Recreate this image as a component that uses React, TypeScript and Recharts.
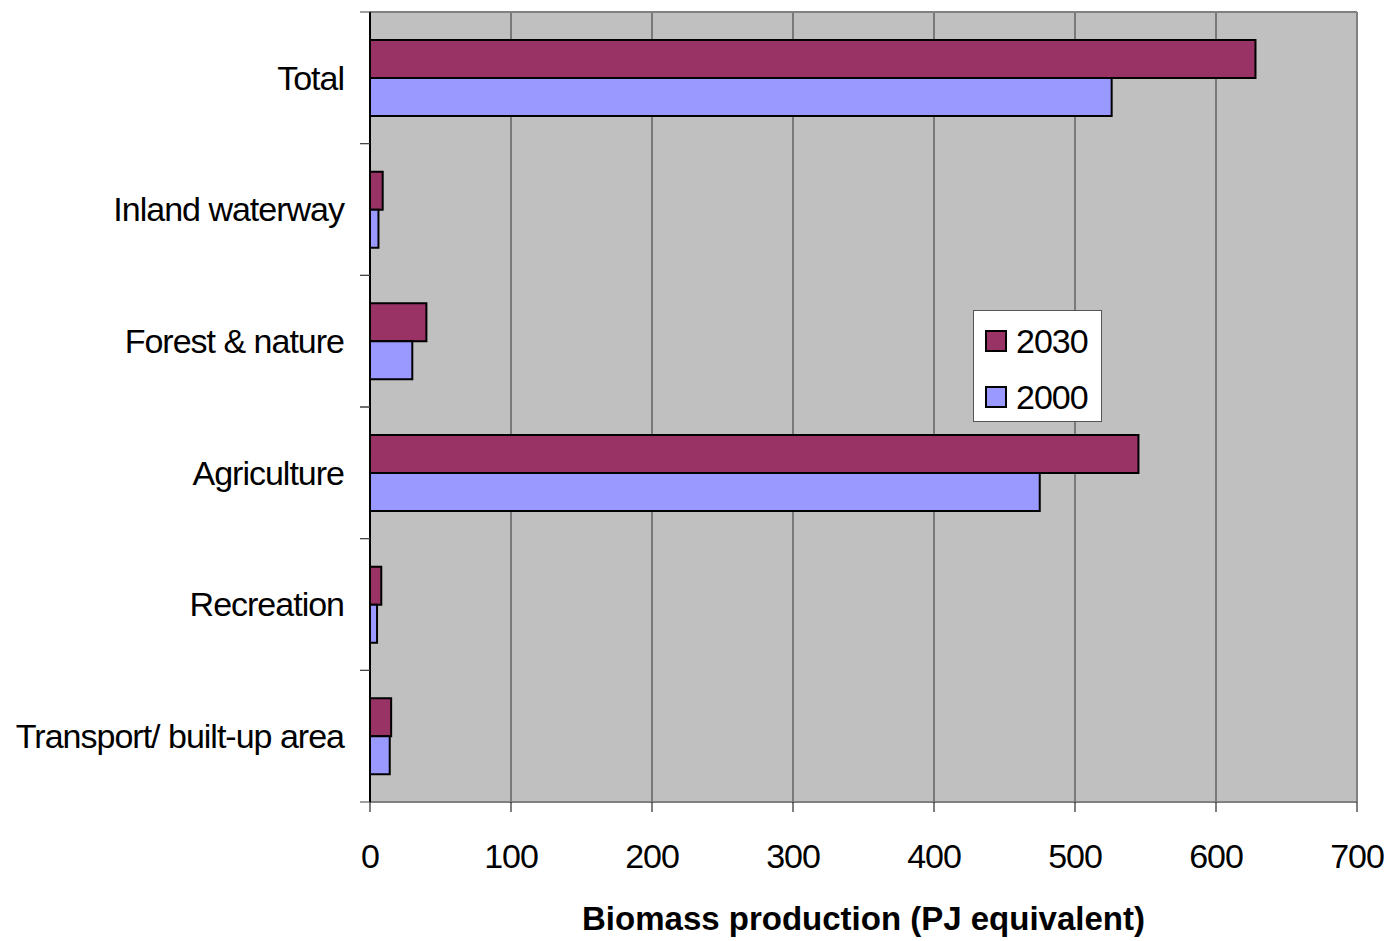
import React from "react";
import {
  BarChart,
  Bar,
  XAxis,
  YAxis,
  CartesianGrid,
  ReferenceLine,
  Label,
} from "recharts";

const categories = [
  "Total",
  "Inland waterway",
  "Forest & nature",
  "Agriculture",
  "Recreation",
  "Transport/ built-up area",
];
const values2030 = [628, 9, 40, 545, 8, 15];
const values2000 = [526, 6, 30, 475, 5, 14];
const xTicks = [0, 100, 200, 300, 400, 500, 600, 700];

const data = categories.map((name, i) => ({
  name,
  y2030: values2030[i],
  y2000: values2000[i],
}));

const FONT = "'Liberation Sans', Arial, sans-serif";
const C2030 = "#993366";
const C2000 = "#9999FF";

const CHART_W = 1394;
const CHART_H = 941;
const MARGIN = { top: 12, right: 37, bottom: 0, left: 0 };
const Y_AXIS_W = 370;
const X_AXIS_H = 139;
const PLOT_H = CHART_H - MARGIN.top - MARGIN.bottom - X_AXIS_H;
const BAND = PLOT_H / categories.length;

const legendItems = [
  { label: "2030", color: C2030 },
  { label: "2000", color: C2000 },
];

const CategoryTick = (props: any) => {
  const { x, y, payload } = props;
  const axisX = MARGIN.left + Y_AXIS_W;
  return (
    <g>
      <line
        x1={axisX - 10}
        x2={axisX}
        y1={y - BAND / 2}
        y2={y - BAND / 2}
        stroke="#404040"
        strokeWidth={1}
      />
      <line
        x1={axisX - 10}
        x2={axisX}
        y1={y + BAND / 2}
        y2={y + BAND / 2}
        stroke="#404040"
        strokeWidth={1}
      />
      <text
        x={x}
        y={y}
        dy="0.35em"
        textAnchor="end"
        fill="#000"
        fontSize={34}
        fontFamily={FONT}
        letterSpacing={-1}
      >
        {payload.value}
      </text>
    </g>
  );
};

const LegendBox = () => (
  <div
    style={{
      position: "absolute",
      left: 973,
      top: 310,
      width: 129,
      height: 112,
      background: "#fff",
      border: "1px solid #555",
      fontFamily: FONT,
      fontSize: 34,
      letterSpacing: -1,
      color: "#000",
      paddingTop: 2,
      boxSizing: "border-box",
    }}
  >
    {legendItems.map((e) => (
      <div
        key={e.label}
        style={{
          display: "flex",
          alignItems: "center",
          height: 56,
          lineHeight: "34px",
        }}
      >
        <div
          style={{
            width: 18,
            height: 18,
            marginLeft: 11,
            marginRight: 9,
            background: e.color,
            border: "2px solid #000",
          }}
        />
        <span>{e.label}</span>
      </div>
    ))}
  </div>
);

export default function App() {
  return (
    <div style={{ position: "absolute", left: 0, top: 0, width: CHART_W, height: CHART_H }}>
      <BarChart
        width={CHART_W}
        height={CHART_H}
        data={data}
        layout="vertical"
        margin={MARGIN}
        barGap={0}
        barSize={38}
      >
        <CartesianGrid
          horizontal={false}
          vertical={true}
          fill="#C0C0C0"
          fillOpacity={1}
          stroke="#333333"
          strokeWidth={1}
        />
        <CartesianGrid
          horizontal={true}
          vertical={false}
          horizontalCoordinatesGenerator={({ offset }: any) => [offset.top]}
          stroke="#808080"
          strokeWidth={2}
        />
        <XAxis
          type="number"
          domain={[0, 700]}
          ticks={xTicks}
          interval={0}
          height={X_AXIS_H}
          axisLine={{ stroke: "#808080", strokeWidth: 2 }}
          tickLine={{ stroke: "#000", strokeWidth: 1 }}
          tickSize={10}
          tickMargin={32}
          tick={{ fill: "#000", fontSize: 34, fontFamily: FONT, letterSpacing: -1 }}
        >
          <Label
            value="Biomass production (PJ equivalent)"
            position="insideBottom"
            offset={11}
            style={{
              fontFamily: FONT,
              fontSize: 33,
              fontWeight: "bold",
              fill: "#000",
            }}
          />
        </XAxis>
        <YAxis
          type="category"
          dataKey="name"
          width={Y_AXIS_W}
          axisLine={{ stroke: "#000", strokeWidth: 2 }}
          tickLine={false}
          tickSize={0}
          tickMargin={26}
          interval={0}
          tick={<CategoryTick />}
        />
        <ReferenceLine x={700} stroke="#808080" strokeWidth={2} />
        <Bar
          dataKey="y2030"
          name="2030"
          fill={C2030}
          stroke="#000"
          strokeWidth={2}
          isAnimationActive={false}
        />
        <Bar
          dataKey="y2000"
          name="2000"
          fill={C2000}
          stroke="#000"
          strokeWidth={2}
          isAnimationActive={false}
        />
      </BarChart>
      <LegendBox />
    </div>
  );
}
